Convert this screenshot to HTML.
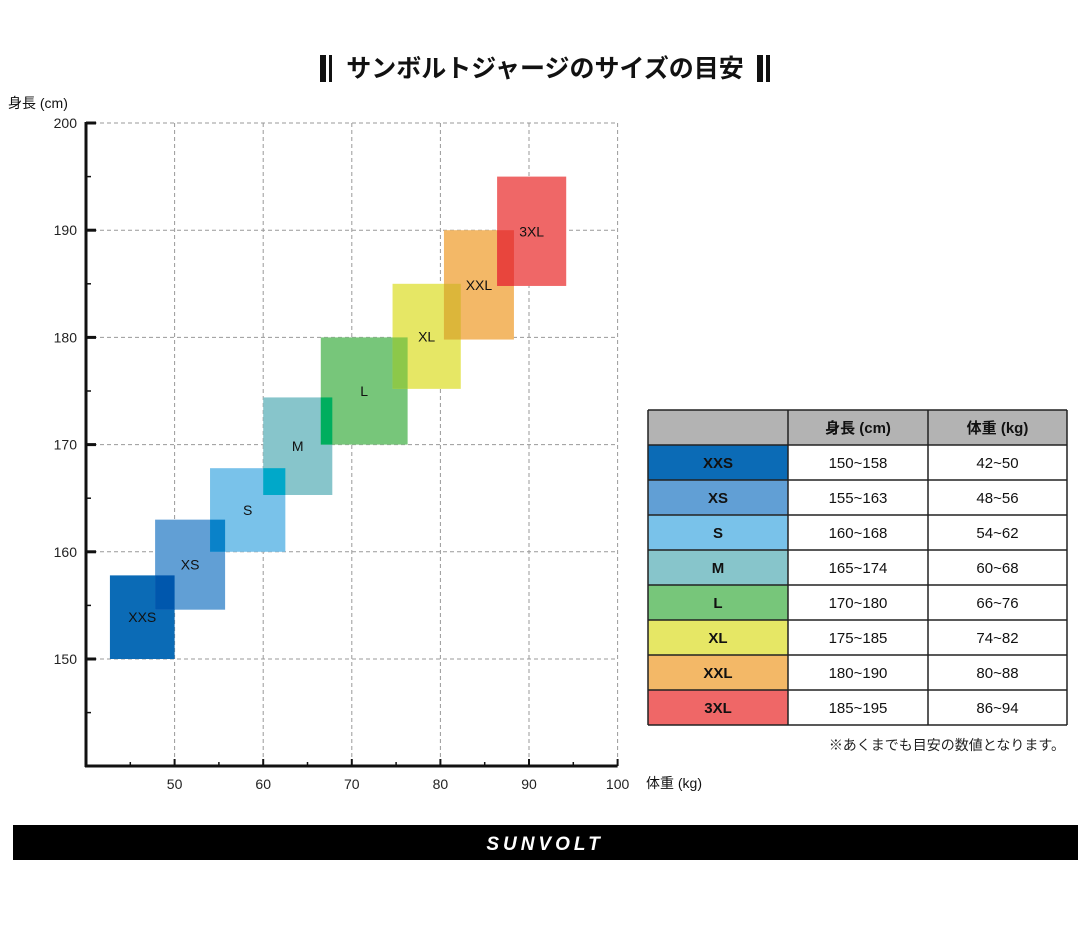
<!DOCTYPE html>
<html><head><meta charset="utf-8"><style>
body{margin:0;background:#fff;width:1080px;height:932px;overflow:hidden;font-family:"Liberation Sans","Noto Sans CJK JP",sans-serif}
</style></head><body>
<svg width="1080" height="932" style="position:absolute;left:0;top:0;font-family:'Liberation Sans','Noto Sans CJK JP',sans-serif">
<rect x="320" y="55" width="6" height="27" fill="#111"/>
<rect x="329" y="55" width="3" height="27" fill="#111"/>
<text x="545" y="77" text-anchor="middle" font-size="25" font-weight="bold" fill="#111">サンボルトジャージのサイズの目安</text>
<rect x="757" y="55" width="6" height="27" fill="#111"/>
<rect x="766" y="55" width="4" height="27" fill="#111"/>
<text x="8" y="108" font-size="14" fill="#111">身長 (cm)</text>
<text x="646" y="788" font-size="14" fill="#111">体重 (kg)</text>
<g id="grid"></g><g id="boxes"></g><g id="axes"></g>
<g id="table"></g>
<text x="1065" y="750" text-anchor="end" font-size="14" fill="#222">※あくまでも目安の数値となります。</text>
<rect x="13" y="825" width="1065" height="35" fill="#000"/>
<text x="545" y="850" text-anchor="middle" font-size="19" font-weight="bold" font-style="italic" fill="#fff" letter-spacing="4">SUNVOLT</text>
</svg>
<script>
const sizes=["XXS","XS","S","M","L","XL","XXL","3XL"];
const wMin=[42.7,47.8,54,60,66.5,74.6,80.4,86.4];
const wMax=[50,55.7,62.5,67.8,76.3,82.3,88.3,94.2];
const hMin=[150,154.6,160,165.3,170,175.2,179.8,184.8];
const hMax=[157.8,163,167.8,174.4,180,185,190,195];
const colors=["#0b6bb6","#619fd5","#79c2ea","#87c5cb","#77c67a","#e6e765","#f3b867","#ef6767"];
const overlapColors=["#0057ad","#0a82c9","#00a8c9","#00ae5e","#8cc84a","#dcb63a","#e8453d"];
const xTicks=[50,60,70,80,90,100];
const yTicks=[150,160,170,180,190,200];
const tblH=["150~158","155~163","160~168","165~174","170~180","175~185","180~190","185~195"];
const tblW=["42~50","48~56","54~62","60~68","66~76","74~82","80~88","86~94"];
const NS="http://www.w3.org/2000/svg";
const X=v=>86+(v-40)*8.86, Y=v=>659-(v-150)*10.72;
function mk(p,t,a){const e=document.createElementNS(NS,t);for(const k in a)e.setAttribute(k,a[k]);p.appendChild(e);return e;}
const grid=document.getElementById('grid'),boxes=document.getElementById('boxes'),axes=document.getElementById('axes'),tbl=document.getElementById('table');
xTicks.forEach(v=>{const l=mk(grid,'line',{x1:X(v),x2:X(v),y1:Y(200),y2:Y(140),stroke:'#999','stroke-dasharray':'4 3'});

const t=mk(axes,'text',{x:X(v),y:789,'text-anchor':'middle','font-size':14,fill:'#222'});t.textContent=v;

mk(axes,'line',{x1:X(v),x2:X(v),y1:766,y2:759,stroke:'#111','stroke-width':2});
mk(axes,'line',{x1:X(v-5),x2:X(v-5),y1:766,y2:762,stroke:'#111','stroke-width':1.5});});
yTicks.forEach(v=>{const l=mk(grid,'line',{x1:86,x2:X(100),y1:Y(v),y2:Y(v),stroke:'#999','stroke-dasharray':'4 3'});

const t=mk(axes,'text',{x:77,y:Y(v)+5,'text-anchor':'end','font-size':14,fill:'#222'});t.textContent=v;

mk(axes,'line',{x1:86,x2:96,y1:Y(v),y2:Y(v),stroke:'#111','stroke-width':3});
mk(axes,'line',{x1:86,x2:91,y1:Y(v-5),y2:Y(v-5),stroke:'#111','stroke-width':1.5});});
mk(axes,'line',{x1:86,x2:86,y1:122,y2:767,stroke:'#111','stroke-width':3});
mk(axes,'line',{x1:85,x2:X(100),y1:766,y2:766,stroke:'#111','stroke-width':3});
sizes.forEach((s,i)=>{const r=mk(boxes,'rect',{x:X(wMin[i]),y:Y(hMax[i]),width:X(wMax[i])-X(wMin[i]),height:Y(hMin[i])-Y(hMax[i]),fill:colors[i]});
});
sizes.forEach((s,i)=>{if(i>0){const x0=X(wMin[i]),x1=X(wMax[i-1]),y0=Y(hMax[i-1]),y1=Y(hMin[i]);
if(x1>x0&&y1>y0){const o=mk(boxes,'rect',{x:x0,y:y0,width:x1-x0,height:y1-y0,fill:overlapColors[i-1]});
}}});
sizes.forEach((s,i)=>{const t=mk(boxes,'text',{x:(X(wMin[i])+X(wMax[i]))/2,y:(Y(hMin[i])+Y(hMax[i]))/2+5,'text-anchor':'middle','font-size':14,fill:'#111'});t.textContent=s;
});
const cx=[648,788,928,1067],ty=410,rh=35;
mk(tbl,'rect',{x:648,y:ty,width:419,height:rh,fill:'#b3b3b3'});
[["",0],["身長 (cm)",1],["体重 (kg)",2]].forEach(([s,c])=>{const t=mk(tbl,'text',{x:(cx[c]+cx[c+1])/2,y:ty+23,'text-anchor':'middle','font-size':15,'font-weight':'bold',fill:'#111'});t.textContent=s;
});
sizes.forEach((s,i)=>{const y=ty+rh*(i+1);
const r=mk(tbl,'rect',{x:648,y:y,width:140,height:rh,fill:colors[i]});

[s,tblH[i],tblW[i]].forEach((v,c)=>{const t=mk(tbl,'text',{x:(cx[c]+cx[c+1])/2,y:y+23,'text-anchor':'middle','font-size':15,'font-weight':c==0?'bold':'normal',fill:'#111'});t.textContent=v;
});});
for(let i=0;i<=9;i++)mk(tbl,'line',{x1:648,x2:1067,y1:ty+rh*i,y2:ty+rh*i,stroke:'#222','stroke-width':1.5});
cx.forEach(x=>mk(tbl,'line',{x1:x,x2:x,y1:ty,y2:ty+rh*9,stroke:'#222','stroke-width':1.5}));
</script>
</body></html>
